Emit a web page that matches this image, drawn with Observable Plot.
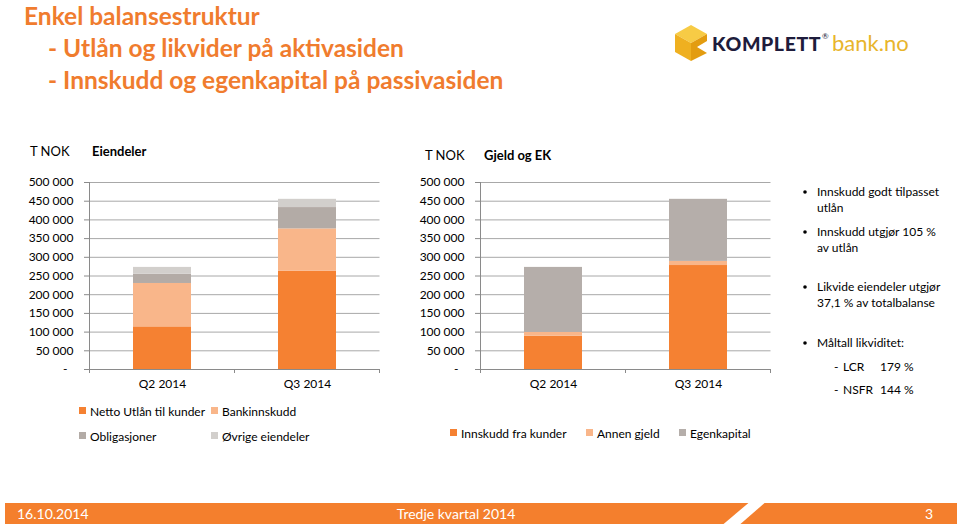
<!DOCTYPE html>
<html><head><meta charset="utf-8">
<script src="https://cdn.jsdelivr.net/npm/d3@7"></script>
<script src="https://cdn.jsdelivr.net/npm/@observablehq/plot@0.6"></script>
<style>
html,body{margin:0;padding:0;background:#fff;}
#slide{position:relative;width:960px;height:529px;overflow:hidden;font-family:Lato,sans-serif;}
#bg{position:absolute;left:0;top:0;}
.chart{position:absolute;top:170px;}
</style></head><body>
<div id="slide"><svg id="bg" width="960" height="529"></svg><div id="c1" class="chart" style="left:0px"></div><div id="c2" class="chart" style="left:391px"></div></div>
<script>
// ---------- DATA ----------
const quarters = ["Q2 2014", "Q3 2014"];
const yTicks = [0, 50000, 100000, 150000, 200000, 250000, 300000, 350000, 400000, 450000, 500000];

const assetSeries = ["Netto Utlån til kunder", "Bankinnskudd", "Obligasjoner", "Øvrige eiendeler"];
const nettoUtlan   = [114000, 263000];
const bankinnskudd = [116000, 113000];
const obligasjoner = [25000, 57000];
const ovrige       = [18000, 22000];

const liabSeries = ["Innskudd fra kunder", "Annen gjeld", "Egenkapital"];
const innskudd    = [89000, 278000];
const annenGjeld  = [10000, 11000];
const egenkapital = [174000, 166000];

const titleLines = ["Enkel balansestruktur", "- Utlån og likvider på aktivasiden", "- Innskudd og egenkapital på passivasiden"];
const bullets = [
  ["Innskudd godt tilpasset", "utlån"],
  ["Innskudd utgjør 105 %", "av utlån"],
  ["Likvide eiendeler utgjør", "37,1 % av totalbalanse"],
  ["Måltall likviditet:"]
];
const ratios = [["LCR", "179 %"], ["NSFR", "144 %"]];
const footer = {date: "16.10.2014", center: "Tredje kvartal 2014", page: "3"};

// ---------- STYLE ----------
const ORANGE = "#F58132", LORANGE = "#F9B68A", GREY = "#B3ABA6", LGREY = "#D2CFCC", EKGREY = "#B5AEAA";
const assetColors = [ORANGE, LORANGE, GREY, LGREY];
const liabColors = [ORANGE, LORANGE, EKGREY];
const TITLE = "#F07C2E";
const FONT = "Lato, sans-serif";

const assetValues = [nettoUtlan, bankinnskudd, obligasjoner, ovrige];
const liabValues = [innskudd, annenGjeld, egenkapital];
const assetData = quarters.flatMap((q, i) => assetSeries.map((s, j) => ({quarter: q, series: s, value: assetValues[j][i]})));
const liabData = quarters.flatMap((q, i) => liabSeries.map((s, j) => ({quarter: q, series: s, value: liabValues[j][i]})));

const fmt = d => d === 0 ? "-\u2002" : d3.format(",")(d).replace(/,/g, "\u00a0");

function chart(data, series, colors) {
  const plot = Plot.plot({
    width: 390, height: 230,
    marginTop: 12, marginBottom: 31, marginLeft: 89, marginRight: 10.5,
    style: {fontFamily: FONT, fontSize: "12px", color: "#000", background: "transparent", overflow: "visible"},
    x: {domain: quarters, paddingInner: 0.6, paddingOuter: 0.3, label: null},
    y: {domain: [0, 500000], label: null},
    color: {domain: series, range: colors},
    marks: [
      Plot.gridY(yTicks, {stroke: "#A8A8A8", strokeOpacity: 1}),
      Plot.barY(data, {x: "quarter", y: "value", fill: "series"}),
      Plot.ruleY([0], {stroke: "#8A8A8A"}),
      Plot.frame({anchor: "left", stroke: "#8A8A8A"}),
      Plot.axisY(yTicks, {tickSize: 5, tickPadding: 11, stroke: "#8A8A8A", tickFormat: fmt, label: null}),
      Plot.axisX({tickSize: 0, tickPadding: 10, label: null})
    ]
  });
  // category separator ticks below the baseline, at band boundaries from the x scale
  const xs = plot.scale("x"), ys = plot.scale("y");
  const step = xs.step, y0 = ys.apply(0);
  const bounds = [...quarters.map(q => xs.apply(q) - (step - xs.bandwidth) / 2), xs.apply(quarters[quarters.length - 1]) + xs.bandwidth + (step - xs.bandwidth) / 2];
  const g = d3.select(plot).append("g").attr("stroke", "#8A8A8A");
  bounds.forEach(b => g.append("line").attr("x1", b).attr("x2", b).attr("y1", y0).attr("y2", y0 + 4));
  return plot;
}
document.getElementById("c1").appendChild(chart(assetData, assetSeries, assetColors));
document.getElementById("c2").appendChild(chart(liabData, liabSeries, liabColors));

// ---------- SLIDE DECORATION ----------
const svg = d3.select("#bg").attr("font-family", FONT);

// title
const titleLayout = [{x: 24, y: 25}, {x: 48, y: 57}, {x: 48, y: 89}];
titleLines.forEach((t, i) => svg.append("text").attr("x", titleLayout[i].x).attr("y", titleLayout[i].y)
  .attr("font-size", 24.5).attr("font-weight", "bold").attr("fill", TITLE).text(t));

// logo
const logo = svg.append("g");
logo.append("polygon").attr("points", "675,34 691,25 707,34 691,43").attr("fill", "#F7CB45");
logo.append("polygon").attr("points", "675,34 691,43 691,61 675,52").attr("fill", "#EFB020");
logo.append("polygon").attr("points", "691,43 707,34 707,41 697,47 707,53 691,61").attr("fill", "#E39C10");
logo.append("text").attr("x", 712).attr("y", 51).attr("font-size", 19.5).attr("font-weight", 900)
  .attr("fill", "#1E1C3C").attr("letter-spacing", 0.6).text("KOMPLETT");
logo.append("text").attr("x", 822).attr("y", 39).attr("font-size", 8).attr("fill", "#1E1C3C").text("®");
logo.append("text").attr("x", 832).attr("y", 51).attr("font-size", 22).attr("fill", "#E8B52B").text("bank.no");

// chart headers
const headers = [
  {x: 30, y: 156, t: "T NOK", w: "normal"}, {x: 92, y: 156, t: "Eiendeler", w: "bold"},
  {x: 425, y: 160, t: "T NOK", w: "normal"}, {x: 484, y: 160, t: "Gjeld og EK", w: "bold"}
];
headers.forEach(h => svg.append("text").attr("x", h.x).attr("y", h.y).attr("font-size", 13)
  .attr("font-weight", h.w).attr("fill", "#000").text(h.t));

// legends
function legend(series, colors, pos) {
  series.forEach((s, i) => {
    const p = pos[i];
    svg.append("rect").attr("x", p.x).attr("y", p.y - 4).attr("width", 7).attr("height", 7).attr("fill", colors[i]);
    svg.append("text").attr("x", p.x + 11).attr("y", p.y + 4.5).attr("font-size", 12).attr("fill", "#000").text(s);
  });
}
legend(assetSeries, assetColors, [{x: 79, y: 411}, {x: 211, y: 411}, {x: 79, y: 436}, {x: 211, y: 436}]);
legend(liabSeries, liabColors, [{x: 450, y: 433}, {x: 586, y: 433}, {x: 679, y: 433}]);

// bullets
const bulletY = [[196, 212], [236, 252], [291, 307], [347]];
bullets.forEach((lines, i) => {
  svg.append("circle").attr("cx", 805).attr("cy", bulletY[i][0] - 4).attr("r", 1.8).attr("fill", "#000");
  lines.forEach((l, k) => svg.append("text").attr("x", 817).attr("y", bulletY[i][k]).attr("font-size", 12).attr("fill", "#000").text(l));
});
const ratioY = [371, 394];
ratios.forEach((r, i) => {
  svg.append("text").attr("x", 834).attr("y", ratioY[i]).attr("font-size", 12).text("-");
  svg.append("text").attr("x", 843).attr("y", ratioY[i]).attr("font-size", 12).text(r[0]);
  svg.append("text").attr("x", 880).attr("y", ratioY[i]).attr("font-size", 12).text(r[1]);
});

// footer
svg.append("rect").attr("x", 5).attr("y", 503).attr("width", 952).attr("height", 21).attr("fill", "#F47F2D");
svg.append("polygon").attr("points", "752,500 768,500 737,527 720,527").attr("fill", "#fff");
svg.append("text").attr("x", 17).attr("y", 519).attr("font-size", 14).attr("fill", "#fff").text(footer.date);
svg.append("text").attr("x", 456).attr("y", 519).attr("font-size", 14).attr("fill", "#fff").attr("text-anchor", "middle").text(footer.center);
svg.append("text").attr("x", 929).attr("y", 519).attr("font-size", 14).attr("fill", "#fff").attr("text-anchor", "middle").text(footer.page);
</script>
</body></html>
